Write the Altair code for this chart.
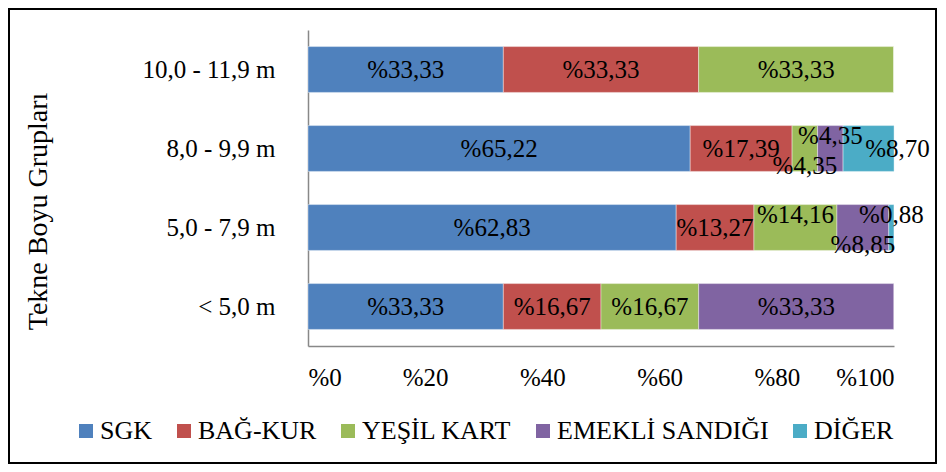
import altair as alt
import pandas as pd

categories = ["10,0 - 11,9 m", "8,0 - 9,9 m", "5,0 - 7,9 m", "< 5,0 m"]
series = ["SGK", "BAĞ-KUR", "YEŞİL KART", "EMEKLİ SANDIĞI", "DİĞER"]
colors = ["#4F81BD", "#C0504D", "#9BBB59", "#8064A2", "#4BACC6"]

sgk = [33.33, 65.22, 62.83, 33.33]
bagkur = [33.33, 17.39, 13.27, 16.67]
yesil = [33.33, 4.35, 14.16, 16.67]
emekli = [0.0, 4.35, 8.85, 33.33]
diger = [0.0, 8.70, 0.88, 0.0]

# labels that Excel moved above / below / right of their segment to avoid overlap
raised = [("5,0 - 7,9 m", "YEŞİL KART"), ("5,0 - 7,9 m", "DİĞER"), ("8,0 - 9,9 m", "EMEKLİ SANDIĞI")]
lowered = [("5,0 - 7,9 m", "EMEKLİ SANDIĞI"), ("8,0 - 9,9 m", "YEŞİL KART")]
pushed_right = [("8,0 - 9,9 m", "DİĞER")]

rows = []
for s_i, (s, vals) in enumerate(zip(series, [sgk, bagkur, yesil, emekli, diger])):
    for c, v in zip(categories, vals):
        if (c, s) in raised:
            pos = "up"
        elif (c, s) in lowered:
            pos = "down"
        elif (c, s) in pushed_right:
            pos = "right"
        else:
            pos = "mid"
        rows.append({"cat": c, "series": s, "order": s_i, "value": v,
                     "label": "%" + f"{v:.2f}".replace(".", ","), "pos": pos})
df = pd.DataFrame(rows)

FONT = "Liberation Serif"

base = alt.Chart(df)

y_enc = alt.Y("cat:N", sort=categories,
              scale=alt.Scale(paddingInner=0.42, paddingOuter=0.21),
              axis=alt.Axis(title="Tekne Boyu Grupları", titleFont=FONT, titleFontSize=28,
                            titleFontWeight="normal", titleColor="black",
                            titleX=-270, titleY=181, titleAngle=270,
                            titleBaseline="middle", titleAlign="center",
                            labelFont=FONT, labelFontSize=25, labelColor="black",
                            labelPadding=33, ticks=False, domainColor="#888888",
                            domainWidth=1.5))

bars = base.mark_bar(stroke="white", strokeWidth=0.4).encode(
    x=alt.X("value:Q", stack="zero",
            scale=alt.Scale(domain=[0, 100], nice=False),
            axis=alt.Axis(values=[0, 20, 40, 60, 80, 100], labelExpr="'%' + datum.value",
                          title=None, grid=False, ticks=False, tickSize=0,
                          labelFont=FONT, labelFontSize=25, labelColor="black",
                          labelPadding=19, domainColor="#888888", domainWidth=1.5)),
    y=y_enc,
    color=alt.Color("series:N", sort=series,
                    scale=alt.Scale(domain=series, range=colors),
                    legend=alt.Legend(title=None, orient="none", direction="horizontal",
                                      legendX=-235, legendY=388,
                                      symbolType="square", symbolSize=196,
                                      symbolStrokeWidth=0, symbolOpacity=1,
                                      labelFont=FONT, labelFontSize=26, labelColor="black",
                                      labelLimit=0, labelOffset=1, columnPadding=18)),
    order=alt.Order("order:Q"),
)

stacked = base.transform_filter("datum.value > 0").transform_stack(
    stack="value", groupby=["cat"], sort=[alt.SortField("order")], as_=["v0", "v1"]
).transform_calculate(mid="(datum.v0 + datum.v1) / 2")


def text_layer(pos, dx, dy):
    return stacked.transform_filter(alt.datum.pos == pos).mark_text(
        font=FONT, fontSize=25, color="black", dx=dx, dy=dy
    ).encode(
        x=alt.X("mid:Q"),
        y=alt.Y("cat:N", sort=categories),
        text="label:N",
    )

border = alt.Chart(alt.Data(values=[{}])).mark_rect(
    fillOpacity=0, stroke="black", strokeWidth=2
).encode(x=alt.value(-299), x2=alt.value(628), y=alt.value(-21), y2=alt.value(433))

chart = alt.layer(
    bars,
    text_layer("mid", 0, 0),
    text_layer("up", 0, -13),
    text_layer("down", 0, 17),
    text_layer("right", 29, 0),
    border,
).properties(
    width=586, height=316,
    autosize=alt.AutoSizeParams(type="none"),
    padding={"left": 300, "top": 22, "right": 44, "bottom": 118},
).configure(font=FONT).configure_view(stroke=None).configure_text(font=FONT).configure_legend(
    labelFont=FONT
).configure_axis(labelFont=FONT, titleFont=FONT)

chart.save("out.html", embed_options={"renderer": "svg", "actions": False})
